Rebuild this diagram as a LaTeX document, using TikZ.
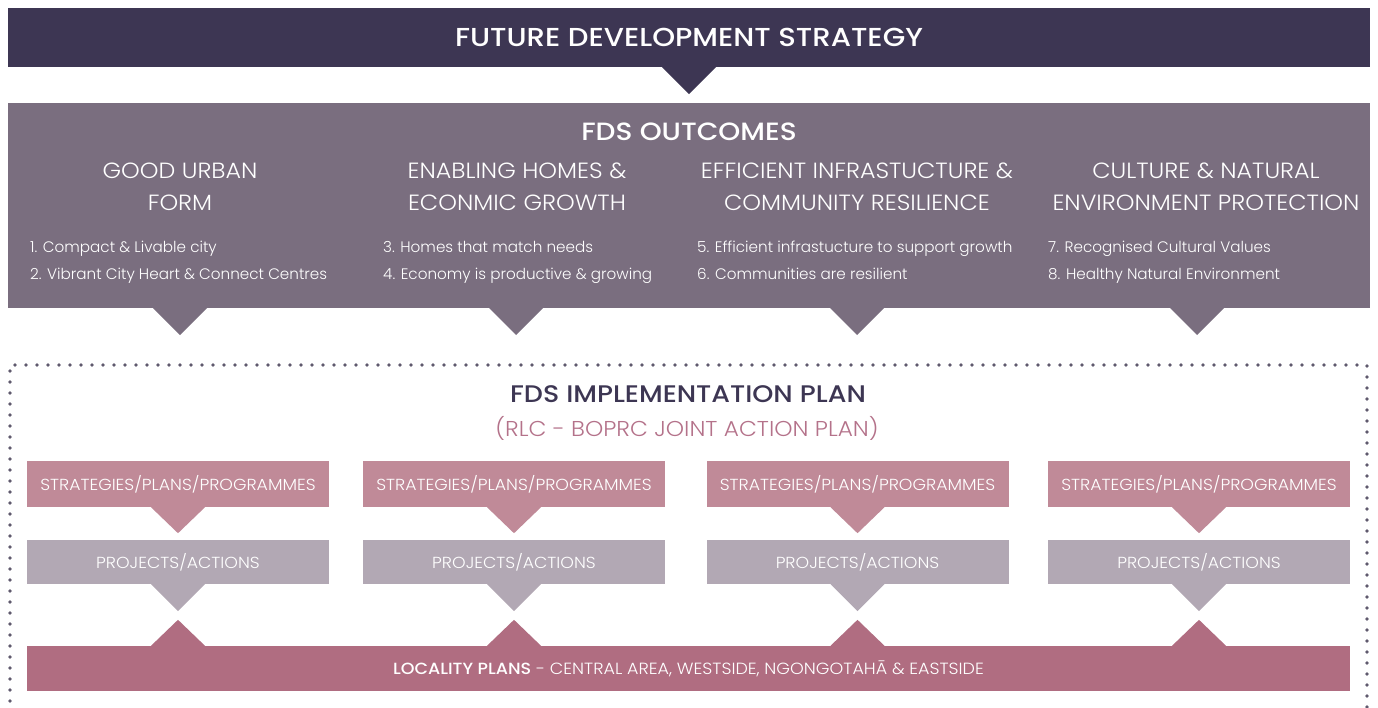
\documentclass[tikz,border=0pt]{standalone}
\usepackage{fontspec}
\setmainfont{Poppins}
\newfontfamily\lightf{Poppins Light}
\newfontfamily\lightw{Poppins Light}[FakeStretch=1.08]
\newfontfamily\medf{Poppins Medium}[FakeStretch=1.12]
\newfontfamily\medw{Poppins Medium}[FakeStretch=1.08]
\usetikzlibrary{calc}
\definecolor{bannerc}{HTML}{3D3653}
\definecolor{outc}{HTML}{7A6E7F}
\definecolor{stratc}{HTML}{C08A98}
\definecolor{projc}{HTML}{B2A8B4}
\definecolor{locc}{HTML}{B06D81}
\definecolor{subc}{HTML}{B4728A}
\definecolor{dotc}{HTML}{5F596D}
\tikzset{
  blk/.style={inner sep=0pt, minimum width=#1, text=white, align=center},
  ttl/.style={inner sep=0pt, font=\medf\fontsize{25}{29}\selectfont},
  colhead/.style={text=white, align=center, inner sep=0pt, font=\lightw\fontsize{22}{32}\selectfont},
  bullet/.style={text=white, anchor=base west, inner sep=0pt, font=\lightf\fontsize{15.2}{18}\selectfont},
  boxtxt/.style={font=\lightw\fontsize{16}{19}\selectfont},
}
\newcommand{\downtri}[3]{\fill[#1] ($(#2)+(-27,0)$) -- ($(#2)+(27,0)$) -- ($(#2)+(0,#3)$) -- cycle;}
\begin{document}
\begin{tikzpicture}[x=1pt,y=-1pt]
\useasboundingbox (0,0) rectangle (1378,707);
% banner
\node[blk=1362pt, minimum height=59pt, fill=bannerc, font=\medf\fontsize{26}{30}\selectfont] (fds) at (689,37.5) {FUTURE DEVELOPMENT STRATEGY};
\downtri{bannerc}{fds.south}{27}
% outcomes
\node[blk=1362pt, minimum height=205pt, fill=outc] (out) at (689,205.5) {};
\node[ttl, text=white] (outt) at (689,132) {FDS OUTCOMES};
\node[colhead] (h1) at (180,187) {GOOD URBAN\\FORM};
\node[colhead] (h2) at (517,187) {ENABLING HOMES \&\\ECONMIC GROWTH};
\node[colhead] (h3) at (857,187) {EFFICIENT INFRASTUCTURE \&\\COMMUNITY RESILIENCE};
\node[colhead] (h4) at (1206,187) {CULTURE \& NATURAL\\ENVIRONMENT PROTECTION};
\node[bullet] (b1a) at (30,252) {1. Compact \& Livable city};
\node[bullet] (b1b) at (30,279) {2. Vibrant City Heart \& Connect Centres};
\node[bullet] (b2a) at (383,252) {3. Homes that match needs};
\node[bullet] (b2b) at (383,279) {4. Economy is productive \& growing};
\node[bullet] (b3a) at (697,252) {5. Efficient infrastucture to support growth};
\node[bullet] (b3b) at (697,279) {6. Communities are resilient};
\node[bullet] (b4a) at (1048,252) {7. Recognised Cultural Values};
\node[bullet] (b4b) at (1048,279) {8. Healthy Natural Environment};
\coordinate (ot1) at (180,308);
\coordinate (ot2) at (516,308);
\coordinate (ot3) at (857,308);
\coordinate (ot4) at (1197,308);
\foreach \i in {1,...,4}{\downtri{outc}{ot\i}{27}}
% dotted frame
\coordinate (fa) at (10,712);
\coordinate (fb) at (10,365);
\coordinate (fc) at (1367,365);
\coordinate (fd) at (1367,712);
\draw[dotc, line width=3.6pt, line cap=round, dash pattern=on 0pt off 11pt] (fa) -- (fb) -- (fc) -- (fd);
% implementation plan
\node[text=bannerc, inner sep=0pt, font=\medf\fontsize{24}{28}\selectfont] (ip) at (688,394) {FDS IMPLEMENTATION PLAN};
\node[text=subc, inner sep=0pt, font=\lightw\fontsize{21.5}{25}\selectfont] (ips) at (687,428) {(RLC - BOPRC JOINT ACTION PLAN)};
% columns
\foreach \i/\x in {1/178,2/514,3/857.5,4/1199}{
  \node[blk=302pt, minimum height=46pt, fill=stratc, boxtxt] (s\i) at (\x,484) {STRATEGIES/PLANS/PROGRAMMES};
  \node[blk=302pt, minimum height=44pt, fill=projc, boxtxt] (p\i) at (\x,562) {PROJECTS/ACTIONS};
  \downtri{stratc}{s\i.south}{26}
  \downtri{projc}{p\i.south}{27}
}
% locality
\node[blk=1323pt, minimum height=45pt, fill=locc, font=\lightw\fontsize{16.2}{19}\selectfont] (loc) at (688.5,668.5) {{\medw LOCALITY PLANS} - CENTRAL AREA, WESTSIDE, NGONGOTAHĀ \& EASTSIDE};
\foreach \i in {1,...,4}{
  \fill[locc] ($(loc.north -| p\i)+(-27,0)$) -- ($(loc.north -| p\i)+(27,0)$) -- ($(loc.north -| p\i)+(0,-26)$) -- cycle;
}
\end{tikzpicture}
\end{document}
